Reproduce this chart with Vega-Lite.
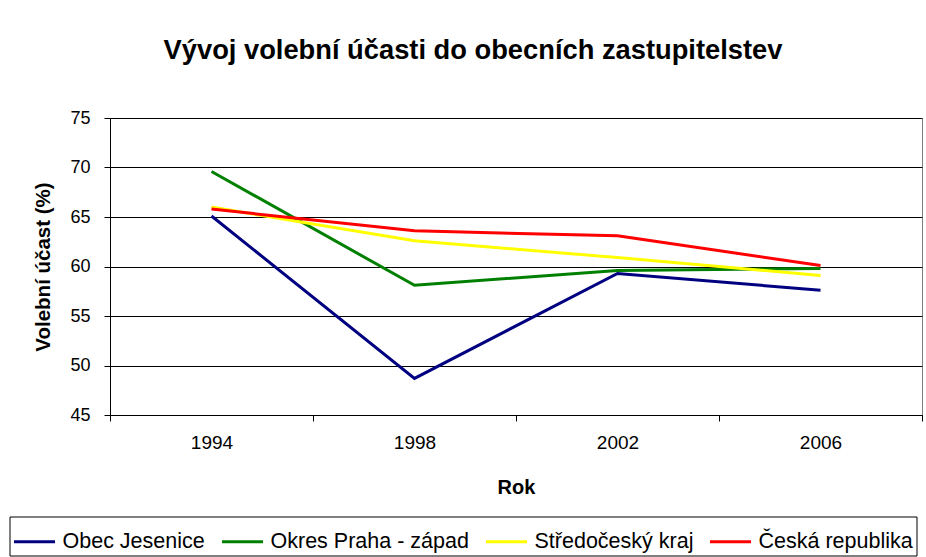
{
  "$schema": "https://vega.github.io/schema/vega-lite/v6.json",
  "autosize": "none",
  "width": 812,
  "height": 297,
  "padding": {"left": 110, "top": 118, "right": 4, "bottom": 142},
  "background": "white",
  "title": {
    "text": "Vývoj volební účasti do obecních zastupitelstev",
    "font": "Liberation Sans",
    "fontSize": 27.3,
    "fontWeight": "bold",
    "color": "#000000",
    "anchor": "middle",
    "dx": -43,
    "offset": 45
  },
  "config": {
    "font": "Liberation Sans",
    "view": {"stroke": "#808080", "strokeWidth": 1}
  },
  "data": {
    "values": [
      {"rok": "1994", "uzemi": "Obec Jesenice", "ucast": 65.1},
      {"rok": "1998", "uzemi": "Obec Jesenice", "ucast": 48.7},
      {"rok": "2002", "uzemi": "Obec Jesenice", "ucast": 59.3},
      {"rok": "2006", "uzemi": "Obec Jesenice", "ucast": 57.6},
      {"rok": "1994", "uzemi": "Okres Praha - západ", "ucast": 69.6},
      {"rok": "1998", "uzemi": "Okres Praha - západ", "ucast": 58.1},
      {"rok": "2002", "uzemi": "Okres Praha - západ", "ucast": 59.6},
      {"rok": "2006", "uzemi": "Okres Praha - západ", "ucast": 59.8},
      {"rok": "1994", "uzemi": "Středočeský kraj", "ucast": 66.0},
      {"rok": "1998", "uzemi": "Středočeský kraj", "ucast": 62.6},
      {"rok": "2002", "uzemi": "Středočeský kraj", "ucast": 60.9},
      {"rok": "2006", "uzemi": "Středočeský kraj", "ucast": 59.1},
      {"rok": "1994", "uzemi": "Česká republika", "ucast": 65.8},
      {"rok": "1998", "uzemi": "Česká republika", "ucast": 63.6},
      {"rok": "2002", "uzemi": "Česká republika", "ucast": 63.1},
      {"rok": "2006", "uzemi": "Česká republika", "ucast": 60.1}
    ]
  },
  "mark": {"type": "line", "strokeWidth": 3},
  "encoding": {
    "x": {
      "field": "rok",
      "type": "ordinal",
      "sort": null,
      "scale": {"type": "band", "paddingInner": 0, "paddingOuter": 0},
      "axis": {
        "title": "Rok",
        "titleFont": "Liberation Sans",
        "titleFontSize": 20,
        "titleFontWeight": "bold",
        "titleColor": "#000000",
        "titlePadding": 25,
        "labelAngle": 0,
        "labelFont": "Liberation Sans",
        "labelFontSize": 19,
        "labelColor": "#000000",
        "labelPadding": 12,
        "tickBand": "extent",
        "tickSize": 6,
        "tickColor": "#000000",
        "domainColor": "#000000",
        "grid": false
      }
    },
    "y": {
      "field": "ucast",
      "type": "quantitative",
      "scale": {"domain": [45, 75], "nice": false, "zero": false},
      "axis": {
        "title": "Volební účast (%)",
        "titleFont": "Liberation Sans",
        "titleFontSize": 20.5,
        "titleFontWeight": "bold",
        "titleColor": "#000000",
        "titlePadding": 16,
        "values": [45, 50, 55, 60, 65, 70, 75],
        "labelFont": "Liberation Sans",
        "labelFontSize": 18,
        "labelColor": "#000000",
        "labelPadding": 14,
        "tickSize": 6,
        "tickColor": "#000000",
        "domainColor": "#000000",
        "grid": true,
        "gridColor": "#000000",
        "gridWidth": 1
      }
    },
    "color": {
      "field": "uzemi",
      "type": "nominal",
      "sort": null,
      "scale": {
        "domain": ["Obec Jesenice", "Okres Praha - západ", "Středočeský kraj", "Česká republika"],
        "range": ["#000080", "#008000", "#FFFF00", "#FF0000"]
      },
      "legend": {
        "title": null,
        "orient": "none",
        "legendX": -100.5,
        "legendY": 398.5,
        "direction": "horizontal",
        "symbolType": "stroke",
        "symbolSize": 1681,
        "symbolStrokeWidth": 3,
        "labelFont": "Liberation Sans",
        "labelFontSize": 21.5,
        "labelColor": "#000000",
        "labelOffset": 6,
        "columnPadding": 10,
        "labelLimit": 400,
        "padding": 3,
        "strokeColor": "#000000",
        "fillColor": "#FFFFFF"
      }
    }
  }
}
